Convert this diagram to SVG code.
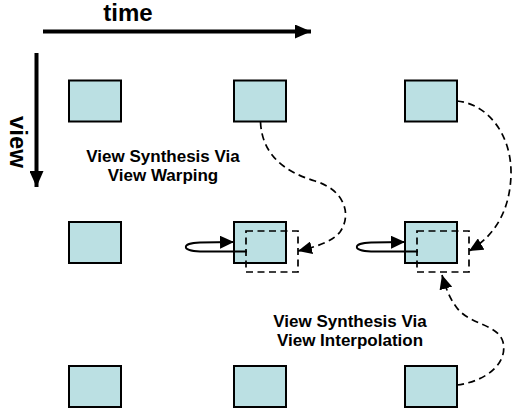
<svg xmlns="http://www.w3.org/2000/svg" width="516" height="415" viewBox="0 0 516 415">
  <style>
    .frame { fill: #BBE0E3; stroke: #000; stroke-width: 2; }
    .ghost { fill: none; stroke: #000; stroke-width: 1.7; stroke-dasharray: 7 4.5; }
    .flow { fill: none; stroke: #000; stroke-width: 1.7; stroke-dasharray: 7 4.5; marker-end: url(#head); }
    .loop { fill: none; stroke: #000; stroke-width: 1.8; marker-end: url(#head); }
    .axis { stroke: #000; stroke-width: 4; fill: none; }
    .axisLabel { font-family: "Liberation Sans", Arial, sans-serif; font-weight: bold; font-size: 24px; fill: #000; }
    .label { font-family: "Liberation Sans", Arial, sans-serif; font-weight: bold; font-size: 17px; fill: #000; text-anchor: middle; }
  </style>
  <defs>
    <marker id="head" markerUnits="userSpaceOnUse" markerWidth="15" markerHeight="13" refX="14" refY="6.5" orient="auto">
      <path d="M0,0 L14,6.5 L0,13 z" fill="#000"/>
    </marker>
    <marker id="bigHead" markerUnits="userSpaceOnUse" markerWidth="17" markerHeight="14" refX="16" refY="7" orient="auto">
      <path d="M0,0 L16,7 L0,14 z" fill="#000"/>
    </marker>
  </defs>

  <!-- axes -->
  <g id="axis-time">
    <line class="axis" x1="43" y1="31.5" x2="311" y2="31.5" marker-end="url(#bigHead)"/>
    <text class="axisLabel" x="128" y="21" text-anchor="middle">time</text>
  </g>
  <g id="axis-view">
    <line class="axis" x1="36.5" y1="53" x2="36.5" y2="187" marker-end="url(#bigHead)"/>
    <text class="axisLabel" transform="translate(9.5,142) rotate(90)" text-anchor="middle">view</text>
  </g>

  <!-- row 1 -->
  <g id="frame-r1c1"><rect class="frame" x="69" y="80.5" width="52" height="41"/></g>
  <g id="frame-r1c2"><rect class="frame" x="234" y="80.5" width="52" height="41"/></g>
  <g id="frame-r1c3"><rect class="frame" x="405" y="80.5" width="52" height="41"/></g>

  <!-- row 2 -->
  <g id="frame-r2c1"><rect class="frame" x="69" y="222" width="52" height="41"/></g>
  <g id="frame-r2c2">
    <rect class="frame" x="234" y="222" width="52" height="41"/>
    <rect class="ghost" x="246" y="231" width="52" height="41"/>
  </g>
  <g id="frame-r2c3">
    <rect class="frame" x="405" y="222" width="52" height="41"/>
    <rect class="ghost" x="417" y="231" width="52" height="41"/>
  </g>

  <!-- row 3 -->
  <g id="frame-r3c1"><rect class="frame" x="69" y="366" width="52" height="41"/></g>
  <g id="frame-r3c2"><rect class="frame" x="234" y="366" width="52" height="41"/></g>
  <g id="frame-r3c3"><rect class="frame" x="405" y="366" width="52" height="41"/></g>

  <!-- captions -->
  <g id="caption-warping">
    <text class="label" x="163" y="162">View Synthesis Via</text>
    <text class="label" x="163" y="181">View Warping</text>
  </g>
  <g id="caption-interpolation">
    <text class="label" x="350" y="327">View Synthesis Via</text>
    <text class="label" x="350" y="346">View Interpolation</text>
  </g>

  <!-- connectors -->
  <g id="connectors">
    <path class="flow" d="M260.5,122 C262,155 285,172 315,181 C345,190 352,215 340,232 C332,242 315,247 298,251"/>
    <path class="flow" d="M457,101 C488,104 512,135 511,175 C510,210 495,236 469,251"/>
    <path class="flow" d="M457,385 C488,381 508,362 503,342 C498,324 470,325 457,308 C450,299 446,289 442,275"/>
    <path class="loop" d="M247,251.5 L200,251.5 C181,251 181,243 200,242.5 L234,242"/>
    <path class="loop" d="M418,251.5 L371,251.5 C352,251 352,243 371,242.5 L405,242"/>
  </g>
</svg>
